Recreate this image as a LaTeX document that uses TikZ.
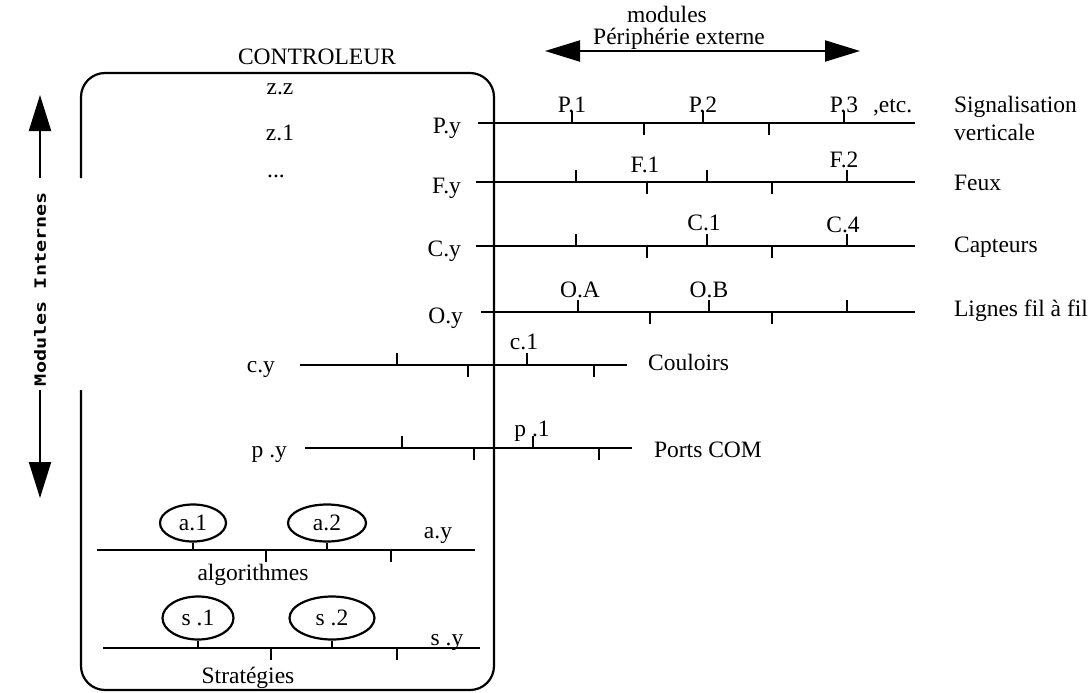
\documentclass[tikz,border=0pt]{standalone}
\usepackage{fontspec}
\setmainfont{Liberation Serif}
\newfontfamily\pixelfont{DejaVu Sans Mono}
\usepackage{tikz}
\usetikzlibrary{shapes.geometric,arrows.meta,positioning}

\begin{document}
\begin{tikzpicture}[
    x=1pt, y=-1pt,
    line width=2.2pt,
    font=\fontsize{23.5}{26}\selectfont,
    lbl/.style={inner sep=0pt},
    module/.style={draw, ellipse, inner sep=0pt},
    bigtip/.style={-{Triangle[length=36pt,width=22pt]}},
    dbltip/.style={{Triangle[length=35pt,width=21pt]}-{Triangle[length=35pt,width=21pt]}}
]
    \useasboundingbox (0,0) rectangle (1090,693);

    % Controller box (open on the left side)
    \coordinate (gapN) at (81,178);
    \coordinate (gapS) at (81,390);
    \draw[rounded corners=24pt] (gapN) -- (81,73) -- (494,73) -- (494,690) -- (81,690) -- (gapS);
    \node[lbl, anchor=base] (ctrl) at (317,65) {CONTROLEUR};
    \node[lbl, anchor=base] (zz) at (280,95) {z.z};
    \node[lbl, anchor=base] (z1) at (280,140) {z.1};
    \node[lbl, anchor=base] (zdots) at (276,177) {...};

    % Internal modules arrow
    \node[lbl, rotate=90, xscale=1.3, font=\fontsize{15.5}{16}\selectfont\pixelfont\bfseries] (intern) at (40,289) {Modules Internes};
    \coordinate (intN) at (40,178);
    \coordinate (intNtip) at (40,95);
    \coordinate (intS) at (40,390);
    \coordinate (intStip) at (40,498);
    \draw[bigtip] (intN) -- (intNtip);
    \draw[bigtip] (intS) -- (intStip);

    % External periphery arrow
    \node[lbl, anchor=base] (modtop) at (667,23) {modules};
    \node[lbl, anchor=base] (periph) at (679,45) {Périphérie externe};
    \coordinate (extW) at (545,51);
    \coordinate (extE) at (860,51);
    \draw[dbltip] (extW) -- (extE);

    % P bus
    \coordinate (PW) at (478,123);
    \coordinate (PE) at (915,123);
    \draw (PW) -- (PE);
    \draw (572,123) -- ++(0,-12) (703,123) -- ++(0,-12) (844,123) -- ++(0,-12)
          (644,123) -- ++(0,12) (769,123) -- ++(0,12);
    \node[lbl, anchor=base east] (Py) at (462,133) {P.y};
    \node[lbl, anchor=base] (P1) at (572,112) {P.1};
    \node[lbl, anchor=base] (P2) at (703,112) {P.2};
    \node[lbl, anchor=base] (P3) at (844,112) {P.3};
    \node[lbl, anchor=base west] (etc) at (872,112) {,etc.};
    \node[lbl, anchor=base west] (sigA) at (953,112) {Signalisation};
    \node[lbl, anchor=base west] (sigB) at (953,140) {verticale};

    % F bus
    \coordinate (FW) at (476,182);
    \coordinate (FE) at (915,182);
    \draw (FW) -- (FE);
    \draw (576,182) -- ++(0,-12) (707,182) -- ++(0,-12) (847,182) -- ++(0,-12)
          (647,182) -- ++(0,12) (772,182) -- ++(0,12);
    \node[lbl, anchor=base east] (Fy) at (462,193) {F.y};
    \node[lbl, anchor=base] (F1) at (645,172) {F.1};
    \node[lbl, anchor=base] (F2) at (844,167) {F.2};
    \node[lbl, anchor=base west] (feux) at (953,190) {Feux};

    % C bus
    \coordinate (CW) at (476,246);
    \coordinate (CE) at (915,246);
    \draw (CW) -- (CE);
    \draw (576,246) -- ++(0,-12) (707,246) -- ++(0,-12) (847,246) -- ++(0,-12)
          (647,246) -- ++(0,12) (772,246) -- ++(0,12);
    \node[lbl, anchor=base east] (Cy) at (462,256) {C.y};
    \node[lbl, anchor=base] (C1) at (704,230) {C.1};
    \node[lbl, anchor=base] (C4) at (843,232) {C.4};
    \node[lbl, anchor=base west] (capt) at (953,252) {Capteurs};

    % O bus
    \coordinate (OW) at (481,312);
    \coordinate (OE) at (915,312);
    \draw (OW) -- (OE);
    \draw (578,312) -- ++(0,-12) (709,312) -- ++(0,-12) (847,312) -- ++(0,-12)
          (650,312) -- ++(0,12) (772,312) -- ++(0,12);
    \node[lbl, anchor=base east] (Oy) at (464,323) {O.y};
    \node[lbl, anchor=base] (OA) at (580,297) {O.A};
    \node[lbl, anchor=base] (OB) at (709,297) {O.B};
    \node[lbl, anchor=base west] (fil) at (953,316) {Lignes fil à fil};

    % c bus
    \coordinate (cW) at (300,365);
    \coordinate (cE) at (627,365);
    \draw (cW) -- (cE);
    \draw (397,365) -- ++(0,-12) (527,365) -- ++(0,-12)
          (468,365) -- ++(0,12) (594,365) -- ++(0,12);
    \node[lbl, anchor=base east] (cy) at (276,372) {c.y};
    \node[lbl, anchor=base] (c1) at (524,349) {c.1};
    \node[lbl, anchor=base west] (coul) at (647,370) {Couloirs};

    % p bus
    \coordinate (pW) at (305,448);
    \coordinate (pE) at (632,448);
    \draw (pW) -- (pE);
    \draw (402,448) -- ++(0,-12) (533,448) -- ++(0,-12)
          (474,448) -- ++(0,12) (599,448) -- ++(0,12);
    \node[lbl, anchor=base east] (py) at (288,457) {p .y};
    \node[lbl, anchor=base] (p1) at (532,436) {p .1};
    \node[lbl, anchor=base west] (ports) at (653,457) {Ports COM};

    % a bus
    \coordinate (aW) at (97,550);
    \coordinate (aE) at (475,550);
    \draw (aW) -- (aE);
    \node[module, minimum width=66pt, minimum height=37pt] (a1) at (193,523) {a.1};
    \node[module, minimum width=78pt, minimum height=37pt] (a2) at (327,523) {a.2};
    \draw (a1.south) -- (a1.south |- aW);
    \draw (a2.south) -- (a2.south |- aW);
    \draw (266,550) -- ++(0,12) (391,550) -- ++(0,12);
    \node[lbl, anchor=base] (ay) at (438,538) {a.y};
    \node[lbl, anchor=base] (algo) at (253,580) {algorithmes};

    % s bus
    \coordinate (sW) at (103,648);
    \coordinate (sE) at (480,648);
    \draw (sW) -- (sE);
    \node[module, minimum width=71pt, minimum height=43pt] (s1) at (198,618) {s .1};
    \node[module, minimum width=85pt, minimum height=43pt] (s2) at (332,618) {s .2};
    \draw (s1.south) -- (s1.south |- sW);
    \draw (s2.south) -- (s2.south |- sW);
    \draw (271,648) -- ++(0,12) (397,648) -- ++(0,12);
    \node[lbl, anchor=base] (sy) at (447,645) {s .y};
    \node[lbl, anchor=base] (strat) at (248,683) {Stratégies};
\end{tikzpicture}
\end{document}
